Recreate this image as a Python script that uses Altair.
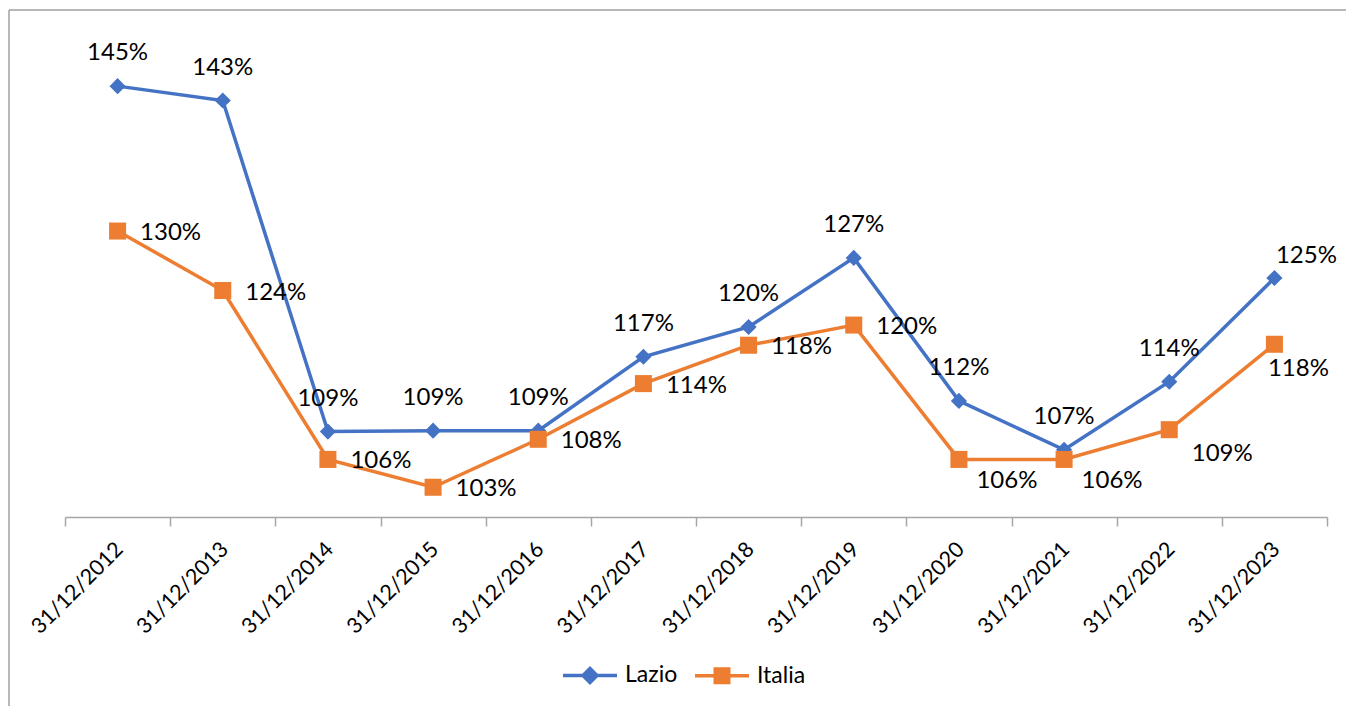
import altair as alt
import pandas as pd

# ---- data ----
dates = ["31/12/2012", "31/12/2013", "31/12/2014", "31/12/2015", "31/12/2016", "31/12/2017",
         "31/12/2018", "31/12/2019", "31/12/2020", "31/12/2021", "31/12/2022", "31/12/2023"]
lazio = [144.9, 143.4, 108.9, 109.0, 109.0, 116.7, 119.8, 127.0, 112.1, 107.0, 114.1, 124.9]
italia = [129.8, 123.6, 106.0, 103.1, 108.1, 113.9, 117.9, 120.0, 106.0, 106.0, 109.1, 118.0]
series_names = ["Lazio", "Italia"]
colors = ["#4472C4", "#ED7D31"]

rows = []
for i, d in enumerate(dates):
    rows.append({"date": d, "idx": i, "series": "Lazio", "value": lazio[i]})
    rows.append({"date": d, "idx": i, "series": "Italia", "value": italia[i]})
df = pd.DataFrame(rows)

FONT = "Lato"
W, H = 1262, 499
PAD_L, PAD_T = 65, 18

x_enc = alt.X("date:N", sort=dates, bandPosition=0.5,
              scale=alt.Scale(type="band", paddingInner=0, paddingOuter=0),
              axis=alt.Axis(title=None, labelAngle=-45, labelAlign="right", labelBaseline="middle",
                            labelFont=FONT, labelFontSize=21.5, labelColor="#000000",
                            labelPadding=20, labelOffset=2,
                            tickBand="extent", tickSize=9, tickColor="#a6a6a6", tickWidth=1.5,
                            domainColor="#a6a6a6", domainWidth=1.5, grid=False))
y_enc = alt.Y("value:Q", scale=alt.Scale(domain=[100, 152], nice=False, zero=False), axis=None)

base = alt.Chart(df)
layers = []

for name, col, shape, size in [("Lazio", colors[0], "diamond", 260), ("Italia", colors[1], "square", 290)]:
    sub = base.transform_filter(alt.datum.series == name)
    layers.append(sub.mark_line(color=col, strokeWidth=3.5).encode(x=x_enc, y=y_enc))
    layers.append(sub.mark_point(shape=shape, filled=True, opacity=1, color=col, size=size)
                  .encode(x=x_enc, y=y_enc))

lab = base.transform_calculate(label="format(datum.value, '.0f') + '%'")
txt = dict(font=FONT, fontSize=24, color="#000000", baseline="middle", align="center")

# Lazio labels: above the points, last one above-right
layers.append(lab.transform_filter((alt.datum.series == "Lazio") & (alt.datum.idx < 11))
              .mark_text(dy=-33, **txt).encode(x=x_enc, y=y_enc, text="label:N"))
layers.append(lab.transform_filter((alt.datum.series == "Lazio") & (alt.datum.idx == 11))
              .mark_text(dx=32, dy=-22, **txt).encode(x=x_enc, y=y_enc, text="label:N"))
# Italia labels: right of points, a few below-right
layers.append(lab.transform_filter((alt.datum.series == "Italia") & (alt.datum.idx < 8))
              .mark_text(dx=53, dy=2, **txt).encode(x=x_enc, y=y_enc, text="label:N"))
layers.append(lab.transform_filter((alt.datum.series == "Italia") & (alt.datum.idx >= 8) & (alt.datum.idx <= 9))
              .mark_text(dx=48, dy=22, **txt).encode(x=x_enc, y=y_enc, text="label:N"))
layers.append(lab.transform_filter((alt.datum.series == "Italia") & (alt.datum.idx == 10))
              .mark_text(dx=53, dy=24, **txt).encode(x=x_enc, y=y_enc, text="label:N"))
layers.append(lab.transform_filter((alt.datum.series == "Italia") & (alt.datum.idx == 11))
              .mark_text(dx=24, dy=25, **txt).encode(x=x_enc, y=y_enc, text="label:N"))

# legend layer (no drawn data, explicit domains)
lazio_sym = "M-1,0H1M0,-0.26L0.26,0L0,0.26L-0.26,0Z"
italia_sym = "M-1,0H1M-0.25,-0.25H0.25V0.25H-0.25Z"
leg = alt.Legend(title=None, orient="none", legendX=496, legendY=628, direction="horizontal",
                 columns=2, columnPadding=10, labelFont=FONT, labelFontSize=23, labelColor="#000000",
                 labelOffset=6, symbolSize=2916, symbolStrokeWidth=3.5)
legend_layer = base.transform_filter("false").mark_point(filled=True, size=2916, strokeWidth=3.5, opacity=1).encode(
    x=x_enc, y=y_enc,
    fill=alt.Fill("series:N", scale=alt.Scale(domain=series_names, range=colors), legend=leg),
    stroke=alt.Stroke("series:N", scale=alt.Scale(domain=series_names, range=colors), legend=leg),
    shape=alt.Shape("series:N", scale=alt.Scale(domain=series_names, range=[lazio_sym, italia_sym]), legend=leg),
)
layers.append(legend_layer)

# outer chart frame (left and top edges, as in the reference crop)
frame_left = alt.Chart(pd.DataFrame({"a": [0]})).mark_rule(color="#a0a0a0", strokeWidth=1.5).encode(
    x=alt.value(9 - PAD_L), y=alt.value(10 - PAD_T), y2=alt.value(706))
frame_top = alt.Chart(pd.DataFrame({"a": [0]})).mark_rule(color="#a0a0a0", strokeWidth=1.5).encode(
    x=alt.value(9 - PAD_L), x2=alt.value(1346), y=alt.value(10 - PAD_T))

chart = alt.layer(frame_left, frame_top, *layers).properties(
    width=W, height=H,
    autosize=alt.AutoSizeParams(type="none"),
    padding={"left": PAD_L, "top": PAD_T, "right": 1346 - PAD_L - W, "bottom": 706 - PAD_T - H},
    background="white",
).configure_view(stroke=None)

chart.save("out.html", embed_options={"renderer": "svg", "actions": False})
